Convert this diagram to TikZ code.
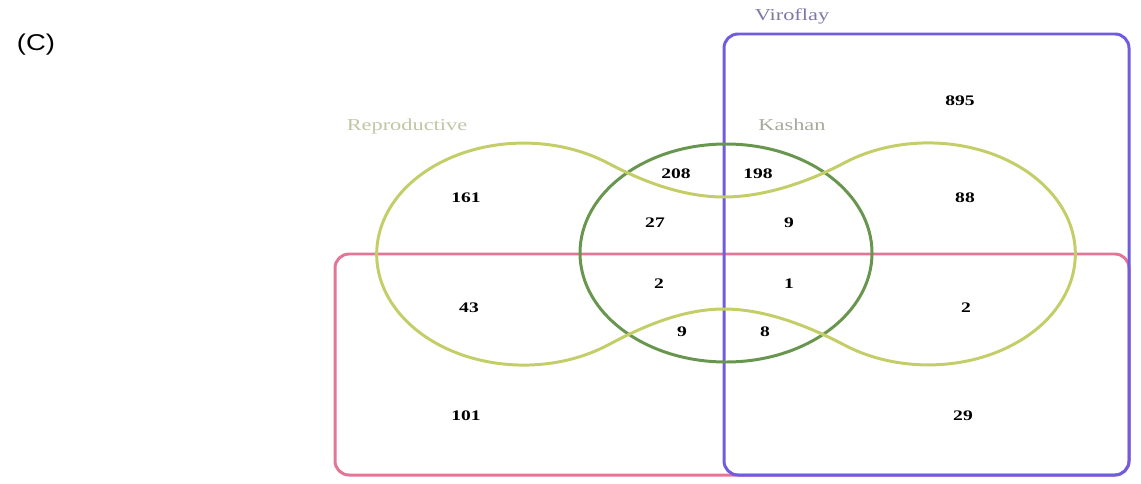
\documentclass[tikz,border=0pt]{standalone}
\usepackage{fontspec}
\setmainfont{Liberation Serif}[FakeStretch=1.34]
\newfontfamily\panelfont{Liberation Sans}[FakeStretch=1.2]
\definecolor{viroblue}{RGB}{112,92,222}
\definecolor{rosered}{RGB}{226,118,150}
\definecolor{reprogreen}{RGB}{196,206,104}
\definecolor{kashgreen}{RGB}{104,150,78}
\definecolor{virolabel}{RGB}{126,120,168}
\definecolor{reprolabel}{RGB}{192,198,164}
\definecolor{kashlabel}{RGB}{166,170,156}

\begin{document}
\begin{tikzpicture}[x=0.02cm, y=-0.02cm,
    setline/.style={line width=1.7pt},
    lobe/.style={x radius=147, y radius=111},
    count/.style={font=\fontsize{8.3}{9}\selectfont\bfseries, inner sep=1pt},
    setname/.style={font=\fontsize{9.5}{11}\selectfont, inner sep=1pt}]
    \useasboundingbox (0,0) rectangle (1141,483);
    % Define sets
    \draw[setline, rosered, rounded corners=8] (335,254) rectangle (1129,475);
    \draw[setline, viroblue, rounded corners=8] (724,34) rectangle (1129,475);
    \draw[setline, kashgreen] (726,253) ellipse [x radius=146, y radius=109];
    \draw[setline, reprogreen] (608,345) arc[start angle=55, end angle=305, lobe]
        .. controls (638,179) and (680,197) .. (724,197)
        .. controls (768,197) and (814,179) .. (844,163)
        arc[start angle=235, end angle=485, lobe]
        .. controls (814,329) and (768,309) .. (724,309)
        .. controls (680,309) and (638,329) .. (608,345) -- cycle;

    % Set names
    \node[font=\panelfont\fontsize{13}{15}\selectfont] (panel) at (36,45) {(C)};
    \node[setname, virolabel] (viroflay) at (792,16) {Viroflay};
    \node[setname, reprolabel] (reproductive) at (407,126) {Reproductive};
    \node[setname, kashlabel] (kashan) at (792,125) {Kashan};

    % Region counts
    \node[count] (n895) at (960,101) {895};
    \node[count] (n161) at (466,198) {161};
    \node[count] (n208) at (676,174) {208};
    \node[count] (n198) at (758,174) {198};
    \node[count] (n88) at (965,198) {88};
    \node[count] (n27) at (655,223) {27};
    \node[count] (n9a) at (789,223) {9};
    \node[count] (n2a) at (659,284) {2};
    \node[count] (n1) at (789,284) {1};
    \node[count] (n43) at (469,308) {43};
    \node[count] (n2b) at (966,308) {2};
    \node[count] (n9b) at (682,332) {9};
    \node[count] (n8) at (765,332) {8};
    \node[count] (n101) at (466,416) {101};
    \node[count] (n29) at (963,416) {29};
\end{tikzpicture}
\end{document}
